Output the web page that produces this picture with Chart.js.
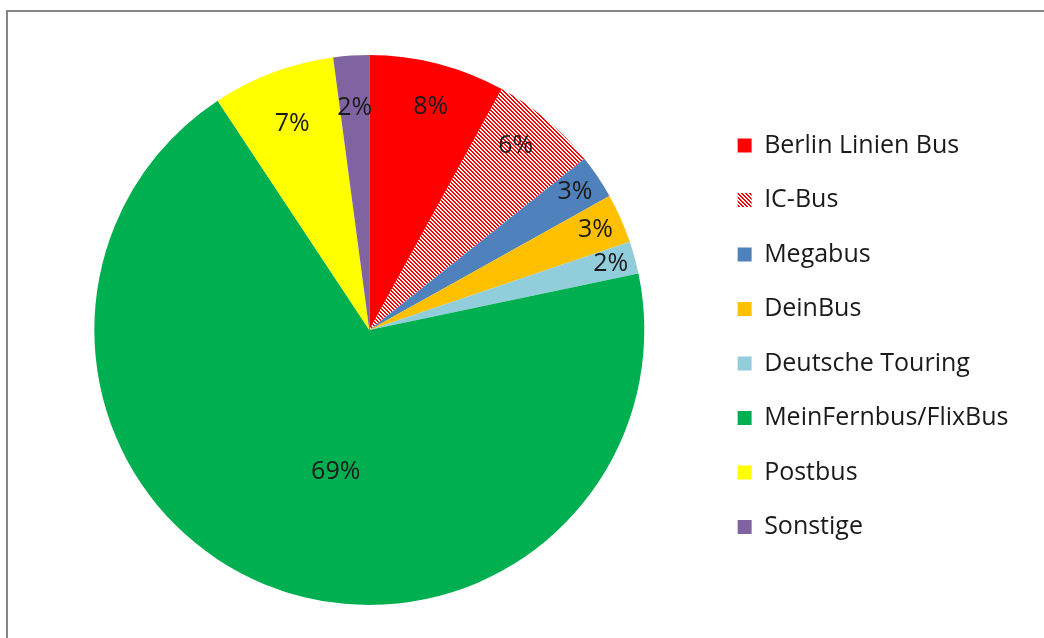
<!DOCTYPE html>
<html>
<head>
<meta charset="utf-8">
<script src="https://cdn.jsdelivr.net/npm/chart.js@4.4.0/dist/chart.umd.min.js"></script>
<style>
  html, body { margin: 0; padding: 0; background: #fff; }
  #wrap { position: relative; width: 1044px; height: 638px; overflow: hidden; }
  #frame { position: absolute; left: 6px; top: 10px; width: 1100px; height: 700px;
           border-left: 2px solid #858585; border-top: 2px solid #858585; }
  #myChart { position: absolute; left: 0; top: 0; }
</style>
</head>
<body>
<div id="wrap">
  <div id="frame"></div>
  <canvas id="myChart" width="1044" height="638"></canvas>
</div>
<script>
var operators = ["Berlin Linien Bus", "IC-Bus", "Megabus", "DeinBus", "Deutsche Touring",
                 "MeinFernbus/FlixBus", "Postbus", "Sonstige"];
var shares = [8.0, 6.3, 2.6, 2.9, 1.9, 69.0, 7.2, 2.1];
var colors = ['#ff0000', null, '#4f81bd', '#ffc000', '#92cddc', '#00b050', '#ffff00', '#8064a2'];

// red / white diagonal hatch for IC-Bus
function hatch() {
    var c = document.createElement('canvas');
    c.width = 8; c.height = 8;
    var g = c.getContext('2d');
    g.fillStyle = '#ffffff';
    g.fillRect(0, 0, 8, 8);
    g.fillStyle = '#ff0000';
    for (var x = 0; x < 8; x++) {
        for (var y = 0; y < 8; y++) {
            if (((x - y + 8) % 4) < 2) g.fillRect(x, y, 1, 1);
        }
    }
    return g.createPattern(c, 'repeat');
}

var pie = document.getElementById("myChart").getContext('2d');
colors[1] = hatch();

var fontFamily = "'Open Sans'";

// labels sit near the outer edge, big slice nearer the middle
var labelRadius = [0.84, 0.855, 0.9, 0.9, 0.91, 0.53, 0.80, 0.81];
var labelTurn = [1, -1.6, 0, 0, 0, -9, 0, 0];

var sliceLabels = {
    id: 'sliceLabels',
    afterDatasetsDraw: function(chart) {
        var ctx = chart.ctx;
        var meta = chart.getDatasetMeta(0);
        var total = shares.reduce(function(a, b) { return a + b; }, 0);
        ctx.save();
        ctx.font = '25px ' + fontFamily;
        ctx.fillStyle = '#1a1a1a';
        ctx.textAlign = 'center';
        ctx.textBaseline = 'middle';
        meta.data.forEach(function(arc, i) {
            var p = arc.getProps(['x', 'y', 'startAngle', 'endAngle', 'outerRadius'], true);
            var mid = (p.startAngle + p.endAngle) / 2 + labelTurn[i] * Math.PI / 180;
            var r = p.outerRadius * labelRadius[i];
            var txt = Math.round(shares[i] / total * 100) + '%';
            ctx.fillText(txt, p.x + Math.cos(mid) * r, p.y + Math.sin(mid) * r);
        });
        ctx.restore();
    }
};

var myChart = new Chart(pie, {
    type: 'pie',
    data: {
        labels: operators,
        datasets: [{
            data: shares,
            backgroundColor: colors,
            borderWidth: 0
        }]
    },
    options: {
        responsive: false,
        animation: false,
        layout: {
            padding: { left: 30.5, top: 55, bottom: 33, right: 25.5 }
        },
        plugins: {
            tooltip: { enabled: false },
            legend: {
                position: 'right',
                title: {
                    display: true,
                    text: ' ',
                    padding: 0,
                    font: { size: 10.5, lineHeight: 1.2 }
                },
                labels: {
                    boxWidth: 14,
                    boxHeight: 14,
                    padding: 29.5,
                    color: '#1a1a1a',
                    font: { family: fontFamily, size: 25 }
                }
            }
        }
    },
    plugins: [sliceLabels]
});
</script>
</body>
</html>
